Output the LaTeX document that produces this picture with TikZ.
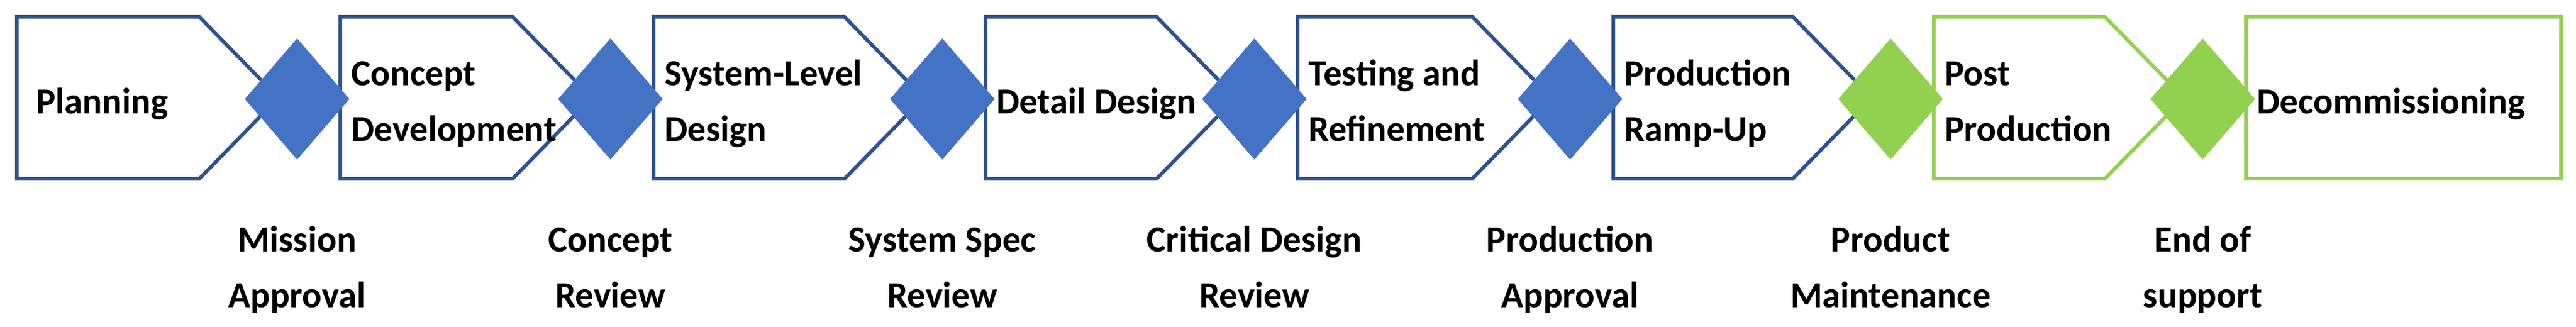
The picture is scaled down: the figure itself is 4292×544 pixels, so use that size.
\documentclass[tikz,border=0pt]{standalone}
\usepackage{fontspec}
\setmainfont{Carlito}
\definecolor{bline}{HTML}{2F528F}
\definecolor{bfill}{HTML}{4472C4}
\definecolor{gr}{HTML}{92D050}
\begin{document}
\begin{tikzpicture}[x=1pt,y=-1pt,
  txt/.style={anchor=base west,align=left,inner sep=0pt,font=\fontsize{61}{93}\selectfont\bfseries},
  lab/.style={anchor=base,align=center,inner sep=0pt,font=\fontsize{61}{93}\selectfont\bfseries},
  stage/.style={line width=6pt,fill=white}]
\useasboundingbox (0,0) rectangle (4292,544);
\newcommand{\stg}[3]{\draw[stage,draw=#3] (#1,28) -- ({#2-235},28) -- ({#2-103},163) -- ({#2-235},298) -- (#1,298) -- cycle;}
\newcommand{\gt}[2]{\fill[#2] ({#1-72-87},165) -- ({#1-72},64) -- ({#1-72+87},165) -- ({#1-72},266) -- cycle;}
\stg{28}{567}{bline}
\stg{567}{1089}{bline}
\stg{1089}{1642}{bline}
\stg{1642}{2162}{bline}
\stg{2162}{2688}{bline}
\stg{2688}{3222}{bline}
\stg{3222}{3742}{gr}
\draw[stage,draw=gr] (3742,28) rectangle (4267,298);
\gt{567}{bfill}
\gt{1089}{bfill}
\gt{1642}{bfill}
\gt{2162}{bfill}
\gt{2688}{bfill}
\gt{3222}{gr}
\gt{3742}{gr}
\node[txt] (s1) at (60,189) {Planning};
\node[txt] (s2) at (585,235) {Concept\\Development};
\node[txt] (s3) at (1107,235) {System-Level\\Design};
\node[txt] (s4) at (1660,189) {Detail Design};
\node[txt] (s5) at (2180,235) {Testing and\\Refinement};
\node[txt] (s6) at (2706,235) {Production\\Ramp-Up};
\node[txt] (s7) at (3240,235) {Post\\Production};
\node[txt] (s8) at (3760,189) {Decommissioning};
\node[lab] (g1) at (495,512) {Mission\\Approval};
\node[lab] (g2) at (1017,512) {Concept\\Review};
\node[lab] (g3) at (1570,512) {System Spec\\Review};
\node[lab] (g4) at (2090,512) {Critical Design\\Review};
\node[lab] (g5) at (2616,512) {Production\\Approval};
\node[lab] (g6) at (3150,512) {Product\\Maintenance};
\node[lab] (g7) at (3670,512) {End of\\support};
\end{tikzpicture}
\end{document}
